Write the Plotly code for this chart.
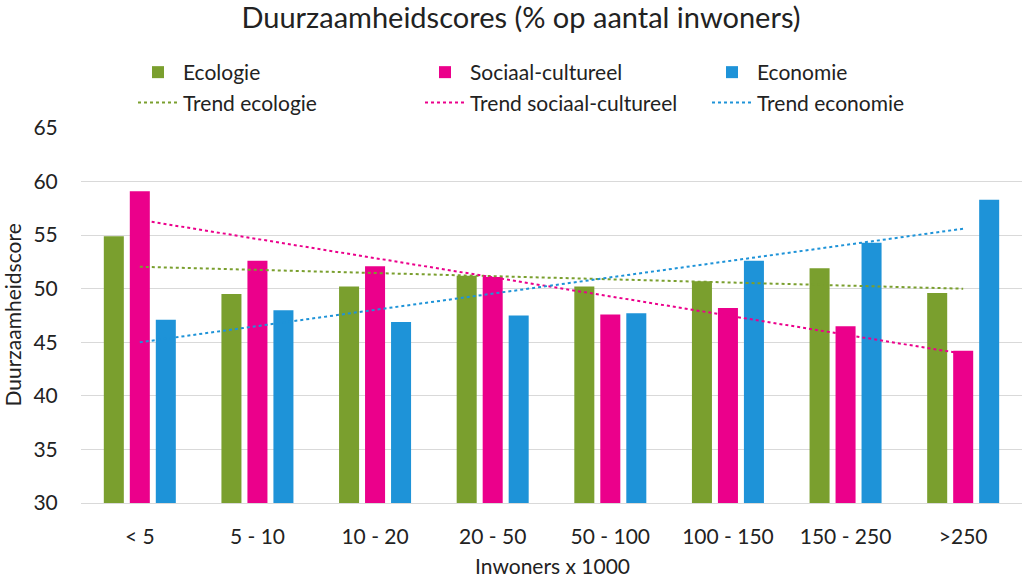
import numpy as np
import plotly.graph_objects as go

categories = ["< 5", "5 - 10", "10 - 20", "20 - 50", "50 - 100", "100 - 150", "150 - 250", ">250"]
ecologie = [54.9, 49.5, 50.2, 51.2, 50.2, 50.7, 51.9, 49.6]
sociaal = [59.1, 52.6, 52.1, 51.1, 47.6, 48.2, 46.5, 44.2]
economie = [47.1, 48.0, 46.9, 47.5, 47.7, 52.6, 54.3, 58.3]

GREEN = "#7A9F2E"
MAGENTA = "#EB008B"
BLUE = "#1E93D8"
FONT = "Lato"
TXT = "#222222"

def trend(vals):
    x = np.arange(1, len(vals) + 1)
    a, b = np.polyfit(x, vals, 1)
    return list(a * x + b)

fig = go.Figure()
for name, vals, col in [("Ecologie", ecologie, GREEN),
                        ("Sociaal-cultureel", sociaal, MAGENTA),
                        ("Economie", economie, BLUE)]:
    fig.add_trace(go.Bar(x=categories, y=vals, name=name, marker=dict(color=col, line=dict(width=0))))

for name, vals, col in [("Trend ecologie", ecologie, GREEN),
                        ("Trend sociaal-cultureel", sociaal, MAGENTA),
                        ("Trend economie", economie, BLUE)]:
    fig.add_trace(go.Scatter(x=categories, y=trend(vals), name=name, mode="lines",
                             line=dict(color=col, width=2, dash="dot")))

fig.update_layout(
    width=1024, height=578,
    margin=dict(l=81, r=2, t=128, b=75, autoexpand=False),
    paper_bgcolor="white", plot_bgcolor="white",
    font=dict(family=FONT, size=20, color=TXT),
    title=dict(text="Duurzaamheidscores (% op aantal inwoners)", x=521 / 1024, xanchor="center",
               y=1 - 18 / 578, yanchor="middle", font=dict(size=29, color=TXT)),
    barmode="group", bargap=0.337, bargroupgap=0.23,
    legend=dict(orientation="h", xref="container", yref="container",
                x=133 / 1024, xanchor="left", y=1 - 52 / 578, yanchor="top",
                entrywidth=232, entrywidthmode="pixels", tracegroupgap=0,
                font=dict(size=21), itemwidth=40),
    showlegend=True,
    annotations=[
        dict(text="Duurzaamheidscore", xref="paper", yref="paper", x=(12 - 81) / 941, y=0.5,
             xanchor="center", yanchor="middle", textangle=-90, showarrow=False,
             font=dict(size=21, color=TXT)),
        dict(text="Inwoners x 1000", xref="paper", yref="paper", x=(552 - 81) / 941, y=-(565 - 503) / 375,
             xanchor="center", yanchor="middle", showarrow=False, font=dict(size=21, color=TXT)),
    ],
)
fig.update_xaxes(type="category", showgrid=False, showline=True, linecolor="#d9d9d9", linewidth=1,
                 ticks="outside", ticklen=15, tickcolor="rgba(0,0,0,0)", tickfont=dict(size=21),
                 automargin=False)
fig.update_yaxes(range=[30, 65], dtick=5, showgrid=True, gridcolor="#d9d9d9", gridwidth=1,
                 zeroline=False, showline=False, ticks="outside", ticklen=18,
                 tickcolor="rgba(0,0,0,0)", tickfont=dict(size=21), automargin=False)

fig.write_html("out.html", config={"displayModeBar": False},
               post_script="document.body.style.margin='0px';")
